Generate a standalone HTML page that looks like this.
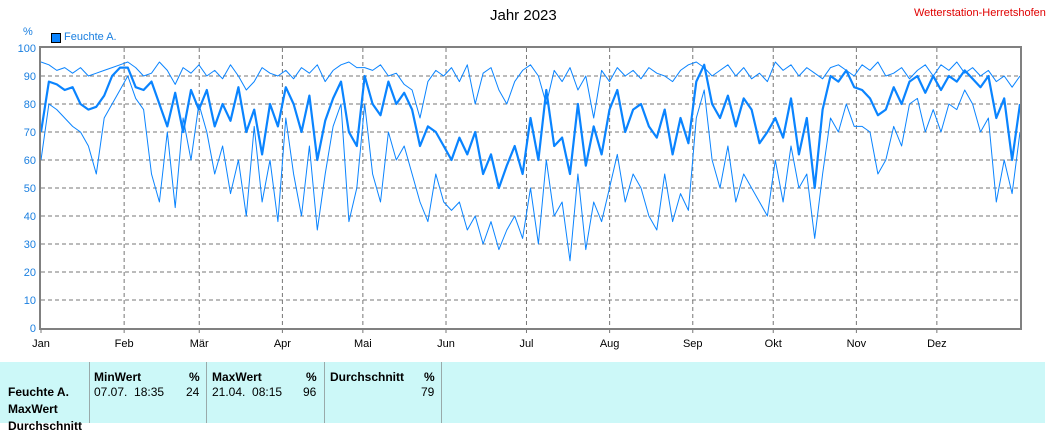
<!DOCTYPE html>
<html><head><meta charset="utf-8"><style>
body{margin:0;width:1055px;height:423px;overflow:hidden;background:#fff;font-family:"Liberation Sans",sans-serif;position:relative}
.t{position:absolute;white-space:nowrap}
.tab{position:absolute;left:0;top:362px;width:1045px;height:61px;background:#ccf8f8}
.sep{position:absolute;top:0;width:1px;height:61px;background:#9aa}
.b{font-weight:bold;font-size:12px}
.n{font-size:12px}
</style></head><body>
<div class="t" style="left:490px;top:7px;font-size:15px;color:#000">Jahr 2023</div>
<div class="t" style="left:914px;top:7px;font-size:11px;color:#e00000">Wetterstation-Herretshofen</div>
<div class="t" style="left:23px;top:26px;font-size:11px;color:#1a7fe0">%</div>
<div style="position:absolute;left:51px;top:33px;width:8px;height:8px;background:#0a84ff;border:1px solid #000"></div>
<div class="t" style="left:64px;top:31px;font-size:11px;color:#1a7fe0">Feuchte A.</div>
<svg id="chart" width="1055" height="362" style="position:absolute;left:0;top:0"></svg>
<div class="tab">
 <div class="sep" style="left:89px"></div><div class="sep" style="left:206px"></div><div class="sep" style="left:324px"></div><div class="sep" style="left:441px"></div>
 <div class="t b" style="left:8px;top:23px">Feuchte A.</div>
 <div class="t b" style="left:8px;top:40px">MaxWert</div>
 <div class="t b" style="left:8px;top:57px">Durchschnitt</div>
 <div class="t b" style="left:94px;top:8px">MinWert</div>
 <div class="t b" style="left:189px;top:8px">%</div>
 <div class="t n" style="left:94px;top:23px">07.07.&nbsp; 18:35</div>
 <div class="t n" style="left:186px;top:23px">24</div>
 <div class="t b" style="left:212px;top:8px">MaxWert</div>
 <div class="t b" style="left:306px;top:8px">%</div>
 <div class="t n" style="left:212px;top:23px">21.04.&nbsp; 08:15</div>
 <div class="t n" style="left:303px;top:23px">96</div>
 <div class="t b" style="left:330px;top:8px">Durchschnitt</div>
 <div class="t b" style="left:424px;top:8px">%</div>
 <div class="t n" style="left:421px;top:23px">79</div>
</div>
<script>
const months=["Jan","Feb","Mär","Apr","Mai","Jun","Jul","Aug","Sep","Okt","Nov","Dez"];
const monthStartDays=[0,31,59,90,120,151,181,212,243,273,304,334];
const yTicks=[0,10,20,30,40,50,60,70,80,90,100];
const maxVals=[95,94,92,93,91,93,90,91,92,93,94, 95,93,90,91,95,92,87,93,91,94, 90,92,89,94,90,85,88,93,91,90, 92,89,93,91,94,88,92,94,95,93, 93,92,94,90,91,87,85,75,88,92,90, 93,88,94,80,91,93,85,80,88,92, 94,90,80,92,88,93,85,90,75,92,88, 93,90,92,89,93,91,90,88,92,94, 95,93,90,92,94,90,93,89,91,88, 95,92,94,90,93,91,89,93,94,92,90, 94,92,95,90,91,93,89,92,94,90, 94,92,95,91,93,90,92,88,90,86,90];
const avgVals=[70,88,87,85,86,80,78,79,83,90,93, 93,86,85,88,80,72,84,70,85,78, 85,72,80,74,86,70,78,62,80,72, 86,80,70,83,60,74,82,88,70,65, 90,80,76,88,80,84,78,65,72,70,65, 60,68,62,70,55,62,50,58,65,55, 75,60,85,65,68,55,80,58,72,62,78, 85,70,78,80,72,68,78,62,75,66, 88,94,80,75,83,72,82,78,66,70, 75,68,82,62,75,50,78,90,88,92,86, 85,82,76,78,86,80,88,90,84,90, 85,90,88,92,89,86,90,75,82,60,80];
const minVals=[60,80,78,75,72,70,65,55,75,80,85, 90,82,78,55,45,70,43,75,60,80, 70,55,65,48,60,40,72,45,60,38, 75,55,40,65,35,55,72,80,38,50, 80,55,45,70,60,65,55,45,38,55,45, 42,45,35,40,30,38,28,35,40,32, 50,30,60,40,45,24,55,28,45,38,50, 62,45,55,50,40,35,55,38,48,42, 75,85,60,50,65,45,55,50,45,40, 60,45,65,50,55,32,55,75,70,80,72, 72,70,55,60,72,65,80,82,70,78, 70,80,78,85,80,70,75,45,60,48,70];
const L=41,R=1020,T=48,B=328,NS="http://www.w3.org/2000/svg";
const svg=document.getElementById('chart');
const xDay=d=>L+(R-L)*d/365;
const y=v=>B-(B-T)*v/100;
function mk(tag,attrs){const e=document.createElementNS(NS,tag);for(const k in attrs)e.setAttribute(k,attrs[k]);svg.appendChild(e);return e;}
yTicks.forEach(v=>{
 if(v>0&&v<100){const g=mk('line',{x1:L,x2:R,y1:y(v),y2:y(v),stroke:'#777','stroke-dasharray':'4,3'});}
 const t=mk('text',{x:36,y:y(v)+4,'text-anchor':'end','font-size':'11',fill:'#1a7fe0','font-family':'Liberation Sans'});t.textContent=v;
 
});
months.forEach((m,i)=>{
 const x=xDay(monthStartDays[i]);
 if(i>0){const g=mk('line',{x1:x,x2:x,y1:T,y2:B,stroke:'#777','stroke-dasharray':'4,3'});}
 mk('line',{x1:x,x2:x,y1:B,y2:B+5,stroke:'#777'});
 const t=mk('text',{x:x,y:347,'text-anchor':'middle','font-size':'11',fill:'#000','font-family':'Liberation Sans'});t.textContent=m;
 
});
function series(vals,w,name){
 const n=vals.length;const pts=vals.map((v,i)=>xDay(i*365/(n-1)).toFixed(1)+','+y(v).toFixed(1)).join(' ');
 const p=mk('polyline',{points:pts,fill:'none',stroke:'#0a84ff','stroke-width':w,'stroke-linejoin':'round'});
 
}
series(maxVals,1,'max-line');series(minVals,1,'min-line');series(avgVals,2.2,'avg-line');
const f=mk('rect',{x:L-1,y:T-1,width:R-L+2,height:B-T+2,fill:'none',stroke:'#808080','stroke-width':2});

</script>
</body></html>
